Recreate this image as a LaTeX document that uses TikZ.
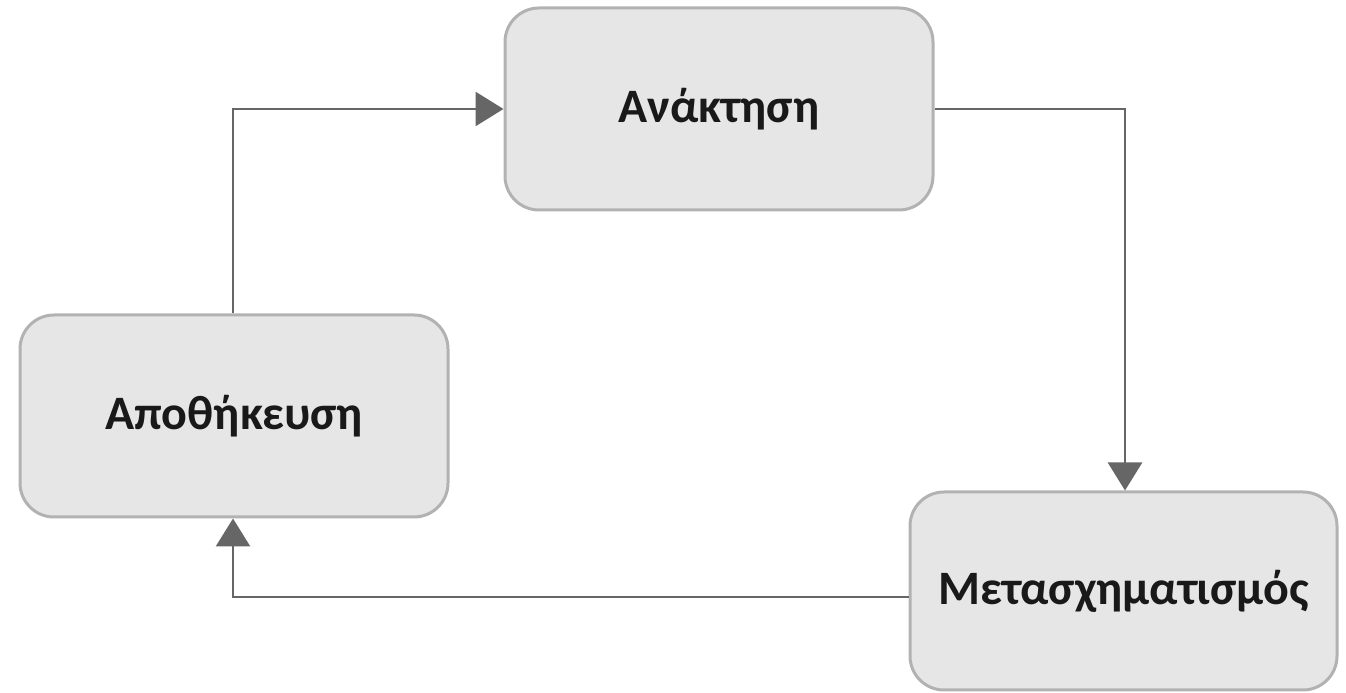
\documentclass[tikz,border=0pt]{standalone}
\usepackage{fontspec}
\setmainfont{Carlito}
\usetikzlibrary{arrows.meta}
\definecolor{boxfill}{HTML}{E6E6E6}
\definecolor{boxline}{HTML}{B2B2B2}
\definecolor{arrowc}{HTML}{666666}
\tikzset{
  stage/.style={draw=boxline, line width=3pt, fill=boxfill, rounded corners=34pt,
    minimum width=#1, font=\fontsize{48}{52}\selectfont\bfseries, text=black!90},
  flow/.style={draw=arrowc, line width=2.8pt, -{Triangle[length=28pt,width=34pt]}}
}
\begin{document}
\begin{tikzpicture}[x=1pt,y=1pt]
\useasboundingbox (0,0) rectangle (1346,693);
\node[stage=428pt, minimum height=202pt] (ana) at (719,584) {Ανάκτηση};
\node[stage=428pt, minimum height=202pt] (apo) at (234,277) {Αποθήκευση};
\node[stage=427pt, minimum height=198pt] (met) at (1123.5,102) {Μετασχηματισμός};
\coordinate (c1) at (233,584);
\coordinate (c2) at (1125,584);
\coordinate (c3) at (233,96);
\draw[flow] (apo.north -| c1) -- (c1) -- (ana.west);
\draw[flow] (ana.east) -- (c2) -- (met.north -| c2);
\draw[flow] (met.west |- c3) -- (c3) -- (apo.south -| c3);
\end{tikzpicture}
\end{document}
